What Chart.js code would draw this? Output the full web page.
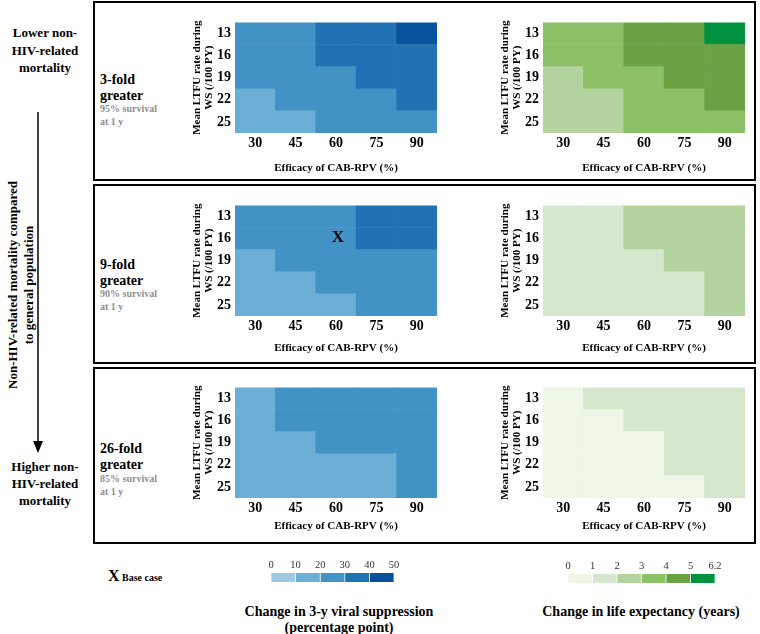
<!DOCTYPE html>
<html>
<head>
<meta charset="utf-8">
<script src="https://cdn.jsdelivr.net/npm/chart.js@4.4.1/dist/chart.umd.min.js"></script>
<style>
  body { margin: 0; background: #fff; }
  #page { position: relative; width: 760px; height: 634px; overflow: hidden;
          font-family: "Liberation Serif", "Times New Roman", serif; font-weight: bold; color: #000; }
  .box { position: absolute; left: 93px; width: 663px; border: 2px solid #000; box-sizing: border-box; }
  .t { position: absolute; white-space: nowrap; }
  canvas { position: absolute; }
</style>
</head>
<body>
<div id="page">
  <div class="box" style="top:1px;height:180px"></div>
  <div class="box" style="top:184px;height:180px"></div>
  <div class="box" style="top:367px;height:177px"></div>

  <div class="t" style="left:0;width:90px;top:24px;font-size:13px;line-height:17.5px;text-align:center">Lower non-<br>HIV-related<br>mortality</div>
  <div class="t" style="left:0;width:90px;top:458px;font-size:13px;line-height:17px;text-align:center">Higher non-<br>HIV-related<br>mortality</div>
  <svg style="position:absolute;left:0;top:0" width="90" height="634">
    <line x1="38" y1="112" x2="38" y2="442" stroke="#000" stroke-width="1.5"/>
    <polygon points="33,441 43,441 38,453" fill="#000"/>
  </svg>
  <div class="t" style="left:-109px;top:269px;width:260px;font-size:13px;line-height:16px;text-align:center;transform:rotate(-90deg)">Non-HIV-related mortality compared<br>to general population</div>

  <div class="t" style="left:100px;top:72px;font-size:14px;line-height:16px">3-fold<br>greater</div>
  <div class="t" style="left:100px;top:102px;font-size:10px;line-height:13px;color:#8f8f8f">95% survival<br>at 1 y</div>
  <div class="t" style="left:100px;top:257px;font-size:14px;line-height:16px">9-fold<br>greater</div>
  <div class="t" style="left:100px;top:287px;font-size:10px;line-height:13px;color:#8f8f8f">90% survival<br>at 1 y</div>
  <div class="t" style="left:100px;top:441px;font-size:14px;line-height:16px">26-fold<br>greater</div>
  <div class="t" style="left:100px;top:472px;font-size:10px;line-height:13px;color:#8f8f8f">85% survival<br>at 1 y</div>

  <div class="t" style="left:108px;top:567px;font-size:16px;line-height:18px">X</div>
  <div class="t" style="left:122px;top:571px;font-size:10px;line-height:13px">Base case</div>
  <div class="t" style="left:189px;width:300px;top:604px;font-size:14px;line-height:16px;text-align:center">Change in 3-y viral suppression<br>(percentage point)</div>
  <div class="t" style="left:491px;width:300px;top:604px;font-size:14px;line-height:16px;text-align:center">Change in life expectancy (years)</div>

  <canvas id="vs3" width="270" height="168" style="left:175px;top:10px"></canvas>
  <canvas id="le3" width="270" height="168" style="left:483px;top:10px"></canvas>
  <canvas id="vs9" width="270" height="168" style="left:175px;top:193px"></canvas>
  <canvas id="le9" width="270" height="168" style="left:483px;top:193px"></canvas>
  <canvas id="vs26" width="270" height="168" style="left:175px;top:375px"></canvas>
  <canvas id="le26" width="270" height="168" style="left:483px;top:375px"></canvas>
  <canvas id="legVS" width="143" height="30" style="left:261px;top:555px"></canvas>
  <canvas id="legLE" width="167" height="30" style="left:558px;top:556px"></canvas>
</div>

<script>
// axes
const efficacy = ['30', '45', '60', '75', '90'];     // Efficacy of CAB-RPV (%)
const ltfu = ['13', '16', '19', '22', '25'];         // mean LTFU rate during WS (/100 PY), top to bottom
const baseCase = ['60', '16'];

// colour bins
const vsEdges = [0, 10, 20, 30, 40, 50];
const vsColors = ['#9ecae1', '#6baed6', '#4292c6', '#2171b5', '#08519c'];
const leEdges = [0, 1, 2, 3, 4, 5, 6.2];
const leColors = ['#eef6e7', '#d5e7cc', '#b3d49e', '#8bc066', '#6aa244', '#00923f'];

// change in 3-y viral suppression (percentage point), rows = ltfu, cols = efficacy
const vs3 = [
  [23, 28, 32, 37, 41],
  [22, 27, 31, 35, 39],
  [21, 25, 29, 33, 37],
  [19, 23, 27, 29, 33],
  [16, 19, 22, 26, 29]
];
const vs9 = [
  [22, 25, 29, 33, 37],
  [21, 24, 28, 32, 36],
  [18, 21, 24, 27, 29],
  [16, 19, 22, 25, 28],
  [14, 17, 19, 23, 26]
];
const vs26 = [
  [19, 22, 25, 27, 29],
  [18, 21, 24, 26, 28],
  [17, 19, 22, 24, 27],
  [15, 16, 18, 19, 22],
  [14, 15, 17, 18, 21]
];

// change in life expectancy (years)
const le3 = [
  [3.4, 3.8, 4.2, 4.7, 5.1],
  [3.3, 3.7, 4.1, 4.5, 4.9],
  [2.9, 3.3, 3.8, 4.2, 4.6],
  [2.6, 2.9, 3.4, 3.8, 4.2],
  [2.3, 2.7, 3.1, 3.5, 3.9]
];
const le9 = [
  [1.5, 1.8, 2.1, 2.4, 2.7],
  [1.4, 1.7, 2.0, 2.3, 2.6],
  [1.3, 1.6, 1.9, 2.2, 2.5],
  [1.2, 1.5, 1.7, 1.9, 2.3],
  [1.1, 1.3, 1.6, 1.8, 2.1]
];
const le26 = [
  [0.9, 1.1, 1.3, 1.5, 1.7],
  [0.8, 0.95, 1.2, 1.4, 1.6],
  [0.7, 0.85, 0.98, 1.2, 1.4],
  [0.6, 0.75, 0.9, 1.05, 1.3],
  [0.5, 0.65, 0.8, 0.95, 1.2]
];

const SERIF = '"Liberation Serif", "Times New Roman", serif';

function binColor(v, edges, colors) {
  for (let i = 0; i < colors.length; i++) {
    if (v < edges[i + 1]) return colors[i];
  }
  return colors[colors.length - 1];
}

const baseCasePlugin = {
  id: 'baseCase',
  afterDatasetsDraw(chart) {
    const { ctx, scales: { x, y } } = chart;
    const px = x.getPixelForValue(efficacy.indexOf(baseCase[0]));
    const py = y.getPixelForValue(ltfu.length - 1 - ltfu.indexOf(baseCase[1]) + 0.5);
    ctx.save();
    ctx.font = 'bold 17px ' + SERIF;
    ctx.fillStyle = '#000';
    ctx.textAlign = 'center';
    ctx.textBaseline = 'middle';
    ctx.fillText('X', px + 2, py - 1);
    ctx.restore();
  }
};

function heatmap(id, values, edges, colors, titlePad, withBase) {
  // stacked from the bottom: first dataset is the last ltfu row
  const datasets = ltfu.map((_, r) => {
    const row = values[ltfu.length - 1 - r];
    return {
      data: efficacy.map(() => 1),
      backgroundColor: row.map(v => binColor(v, edges, colors)),
      borderWidth: 0,
      barPercentage: 1,
      categoryPercentage: 1
    };
  });

  new Chart(document.getElementById(id), {
    type: 'bar',
    data: { labels: efficacy, datasets },
    options: {
      responsive: false,
      animation: false,
      events: [],
      layout: { padding: { left: 0, top: 8, right: 8, bottom: 0 } },
      plugins: { legend: { display: false }, tooltip: { enabled: false } },
      scales: {
        x: {
          stacked: true,
          grid: { display: false, drawTicks: false },
          border: { display: false },
          ticks: { color: '#000', padding: 2, font: { family: SERIF, size: 14, weight: 'bold' } },
          title: {
            display: true, text: 'Efficacy of CAB-RPV (%)', color: '#000',
            font: { family: SERIF, size: 11, weight: 'bold' },
            padding: { top: 0, bottom: titlePad }
          },
          afterFit: s => { s.height = 45; }
        },
        y: {
          stacked: true, min: 0, max: ltfu.length,
          grid: { display: false, drawTicks: false },
          border: { display: false },
          afterBuildTicks: s => { s.ticks = ltfu.map((_, i) => ({ value: i + 0.5 })); },
          ticks: {
            color: '#000', padding: 4,
            font: { family: SERIF, size: 14, weight: 'bold' },
            callback: (v, i) => ltfu[ltfu.length - 1 - i]
          },
          title: {
            display: true, text: ['Mean LTFU rate during', 'WS (/100 PY)'], color: '#000',
            font: { family: SERIF, size: 11, weight: 'bold', lineHeight: 1.1 },
            padding: { top: 16, bottom: 0 }
          },
          afterFit: s => { s.width = 60; }
        }
      }
    },
    plugins: withBase ? [baseCasePlugin] : []
  });
}

function legendBar(id, edges, colors) {
  new Chart(document.getElementById(id), {
    type: 'bar',
    data: {
      labels: [''],
      datasets: colors.map(c => ({
        data: [1],
        backgroundColor: c,
        borderColor: '#fff',
        borderWidth: { left: 0.7, right: 0.7, top: 0, bottom: 0 },
        borderSkipped: false,
        barPercentage: 1,
        categoryPercentage: 1
      }))
    },
    options: {
      indexAxis: 'y',
      responsive: false,
      animation: false,
      events: [],
      layout: { padding: { left: 10, right: 10, top: 0, bottom: 3 } },
      plugins: { legend: { display: false }, tooltip: { enabled: false } },
      scales: {
        x: {
          stacked: true, position: 'top', min: 0, max: colors.length,
          grid: { display: false, drawTicks: false },
          border: { display: false },
          afterBuildTicks: s => { s.ticks = edges.map((_, i) => ({ value: i })); },
          ticks: {
            color: '#333', padding: 1,
            font: { family: SERIF, size: 10.5 },
            callback: (v, i) => edges[i]
          },
          afterFit: s => { s.height = 18; }
        },
        y: { stacked: true, display: false }
      }
    }
  });
}

heatmap('vs3', vs3, vsEdges, vsColors, 3.4, false);
heatmap('le3', le3, leEdges, leColors, 3.4, false);
heatmap('vs9', vs9, vsEdges, vsColors, 6.4, true);
heatmap('le9', le9, leEdges, leColors, 6.4, false);
heatmap('vs26', vs26, vsEdges, vsColors, 10.4, false);
heatmap('le26', le26, leEdges, leColors, 10.4, false);
legendBar('legVS', vsEdges, vsColors);
legendBar('legLE', leEdges, leColors);
</script>
</body>
</html>
